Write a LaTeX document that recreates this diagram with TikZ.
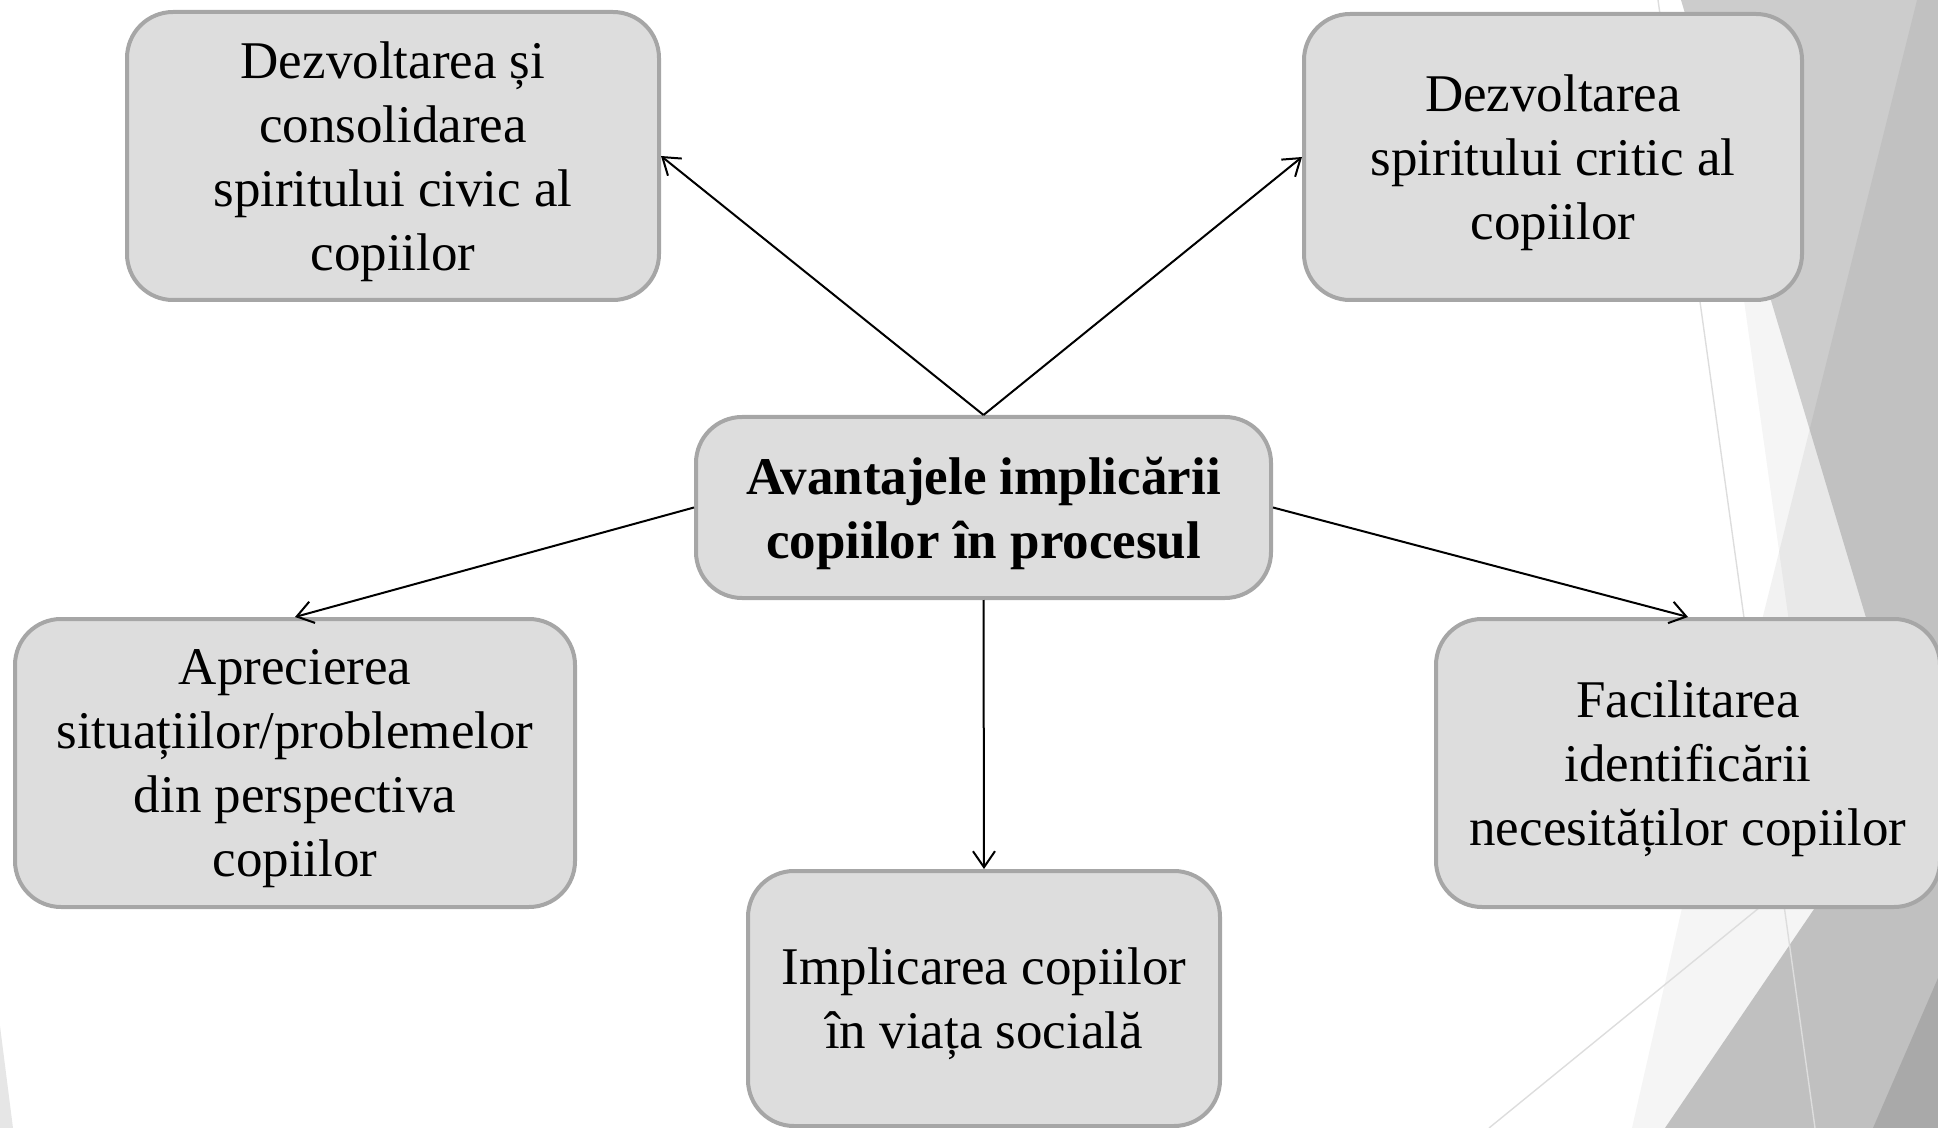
\documentclass[tikz,border=0pt]{standalone}
\usepackage{fontspec}
\setmainfont{Liberation Serif}
\usetikzlibrary{arrows.meta}

\definecolor{boxfill}{HTML}{DDDDDD}
\definecolor{boxline}{HTML}{A6A6A6}
\definecolor{facetlight}{HTML}{F5F5F5}
\definecolor{facetgray}{HTML}{CCCCCC}
\definecolor{facetmid}{HTML}{C0C0C0}
\definecolor{facetdark}{HTML}{A9A9A9}
\definecolor{facetpale}{HTML}{E6E6E6}
\definecolor{facetline}{HTML}{DDDDDD}

\begin{document}
\begin{tikzpicture}[x=0.5pt,y=-0.5pt,->,>={Straight Barb[length=8pt,width=11pt]},line width=1pt,
	box/.style={rectangle, rounded corners=23pt, draw=boxline, line width=2pt, fill=boxfill,
		align=center, inner sep=0pt, text depth=-5.5pt, font=\fontsize{26.5}{32}\selectfont},
	mainbox/.style={box, font=\fontsize{26.5}{32}\selectfont\bfseries}]
	\useasboundingbox (0,0) rectangle (1938,1128);

	% background facets
	\fill[facetlight] (1702,0) -- (1938,0) -- (1938,908) -- (1829,908) -- cycle;
	\fill[facetgray] (1681,0) -- (1938,0) -- (1938,858) -- cycle;
	\fill[black, opacity=0.05] (1917,0) -- (1938,0) -- (1938,908) -- (1690,908) -- cycle;
	\fill[facetlight] (1682,908) -- (1938,908) -- (1938,1128) -- (1632,1128) -- cycle;
	\fill[facetmid] (1665,1128) -- (1938,1128) -- (1938,727) -- cycle;
	\fill[facetdark] (1873,1128) -- (1938,1128) -- (1938,978) -- cycle;
	\fill[facetpale] (0,1026) -- (13,1128) -- (0,1128) -- cycle;
	\draw[-, facetline, line width=0.7pt] (1658,0) -- (1815,1128);
	\draw[-, facetline, line width=0.7pt] (1938,762) -- (1489,1128);

	\node[box, minimum width=266pt, minimum height=144pt] (civic) at (393,156) {Dezvoltarea și\\consolidarea\\spiritului civic al\\copiilor};
	\node[box, minimum width=249pt, minimum height=143pt] (critic) at (1553,157) {Dezvoltarea\\spiritului critic al\\copiilor};
	\node[mainbox, minimum width=287.5pt, minimum height=90.5pt] (avantaje) at (983.5,507.5) {Avantajele implicării\\copiilor în procesul};
	\node[box, minimum width=280pt, minimum height=144pt] (apreciere) at (295,763) {Aprecierea\\situațiilor/problemelor\\din perspectiva\\copiilor};
	\node[box, minimum width=236pt, minimum height=127.5pt] (implicare) at (984,998.5) {Implicarea copiilor\\în viața socială};
	\node[box, minimum width=252pt, minimum height=144pt] (facilitare) at (1688,763) {Facilitarea\\identificării\\necesităților copiilor};

	\draw (avantaje.north) to (civic.east);
	\draw (avantaje.north) to (critic.west);
	\draw (avantaje.west) to (apreciere.north);
	\draw (avantaje.east) to (facilitare.north);
	\draw (avantaje.south) to (implicare.north);

\end{tikzpicture}
\end{document}
